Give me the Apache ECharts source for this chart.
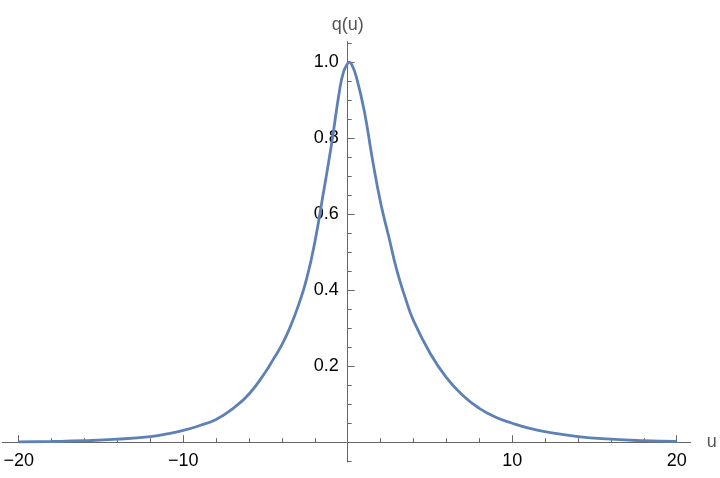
<!DOCTYPE html>
<html>
<head>
<meta charset="utf-8">
<script src="https://cdn.jsdelivr.net/npm/echarts@6/dist/echarts.min.js"></script>
<style>
  html, body { margin: 0; padding: 0; background: #fff; }
  #chart { width: 720px; height: 478px; }
</style>
</head>
<body>
<div id="chart"></div>
<script>
// values
const uValues = [-20, -18, -16, -14, -12, -11, -10, -9, -8, -7, -6, -5, -4.5, -4, -3.5, -3, -2.5, -2, -1.5, -1, -0.5, -0.25, 0, 0.1, 0.25, 0.5, 1, 1.5, 2, 2.5, 3, 3.5, 4, 5, 6, 7, 8, 9, 10, 11, 12, 14, 16, 18, 20];
const qValues = [0.001, 0.002, 0.004, 0.008, 0.015, 0.022, 0.031, 0.044, 0.06, 0.088, 0.127, 0.185, 0.22, 0.257, 0.303, 0.36, 0.43, 0.527, 0.651, 0.78, 0.925, 0.975, 0.997, 1.0, 0.993, 0.965, 0.873, 0.745, 0.63, 0.54, 0.45, 0.38, 0.32, 0.235, 0.17, 0.123, 0.089, 0.066, 0.05, 0.037, 0.028, 0.015, 0.008, 0.004, 0.002];
const xLabelValues = [-20, -10, 10, 20];
const xMinorTicks = [-20, -18, -16, -14, -12, -10, -8, -6, -4, -2, 2, 4, 6, 8, 10, 12, 14, 16, 18, 20];
const yLabelValues = [0.2, 0.4, 0.6, 0.8, 1.0];
const yMinorTicks = [-0.05, 0.05, 0.1, 0.15, 0.25, 0.3, 0.35, 0.45, 0.5, 0.55, 0.65, 0.7, 0.75, 0.85, 0.9, 0.95, 1.05];

const chart = echarts.init(document.getElementById('chart'));

const axisColor = '#666666';
const font = 'Liberation Sans, Arial, sans-serif';
const minus = (v) => String(v).replace('-', '\u2212');

// grid: x from -21 to 20.85, y from -0.052 to 1.054; axes moved onto zero with offsets
const xBase = {
  type: 'value',
  position: 'bottom',
  offset: -19.8,
  min: -21,
  max: 20.85,
  splitLine: { show: false },
  axisLine: { onZero: false, lineStyle: { color: axisColor, width: 1 } },
};
const yBase = {
  type: 'value',
  position: 'left',
  offset: -345.4,
  min: -0.052,
  max: 1.054,
  splitLine: { show: false },
  axisLine: { onZero: false, lineStyle: { color: axisColor, width: 1 } },
};

const option = {
  animation: false,
  grid: { left: 2.3, right: 29.3, top: 41.7, bottom: 16, outerBoundsMode: 'none', containLabel: false },
  xAxis: [
    Object.assign({}, xBase, {
      name: 'u',
      nameLocation: 'end',
      nameGap: 16,
      nameTextStyle: { color: '#555', fontSize: 18, fontFamily: font },
      axisTick: { inside: true, length: 7, customValues: xLabelValues, lineStyle: { color: axisColor } },
      axisLabel: {
        customValues: xLabelValues,
        color: '#000',
        fontSize: 18,
        fontFamily: font,
        margin: 10,
        formatter: minus,
      },
    }),
    Object.assign({}, xBase, {
      axisLine: { show: false },
      axisTick: { inside: true, length: 4, customValues: xMinorTicks, lineStyle: { color: axisColor } },
      axisLabel: { show: false },
    }),
  ],
  yAxis: [
    Object.assign({}, yBase, {
      name: 'q(u)',
      nameLocation: 'end',
      nameGap: 8,
      nameTextStyle: { color: '#555', fontSize: 18, fontFamily: font, align: 'center' },
      axisTick: { inside: true, length: 7, customValues: yLabelValues, lineStyle: { color: axisColor } },
      axisLabel: {
        customValues: yLabelValues,
        color: '#000',
        fontSize: 18,
        fontFamily: font,
        margin: 9,
        formatter: (v) => v.toFixed(1),
      },
    }),
    Object.assign({}, yBase, {
      axisLine: { show: false },
      axisTick: { inside: true, length: 4, customValues: yMinorTicks, lineStyle: { color: axisColor } },
      axisLabel: { show: false },
    }),
  ],
  series: [{
    type: 'line',
    xAxisIndex: 0,
    yAxisIndex: 0,
    showSymbol: false,
    smooth: 0.5,
    lineStyle: { color: '#5e81b5', width: 2.8 },
    data: uValues.map((u, i) => [u, qValues[i]]),
  }],
};

chart.setOption(option);
</script>
</body>
</html>
